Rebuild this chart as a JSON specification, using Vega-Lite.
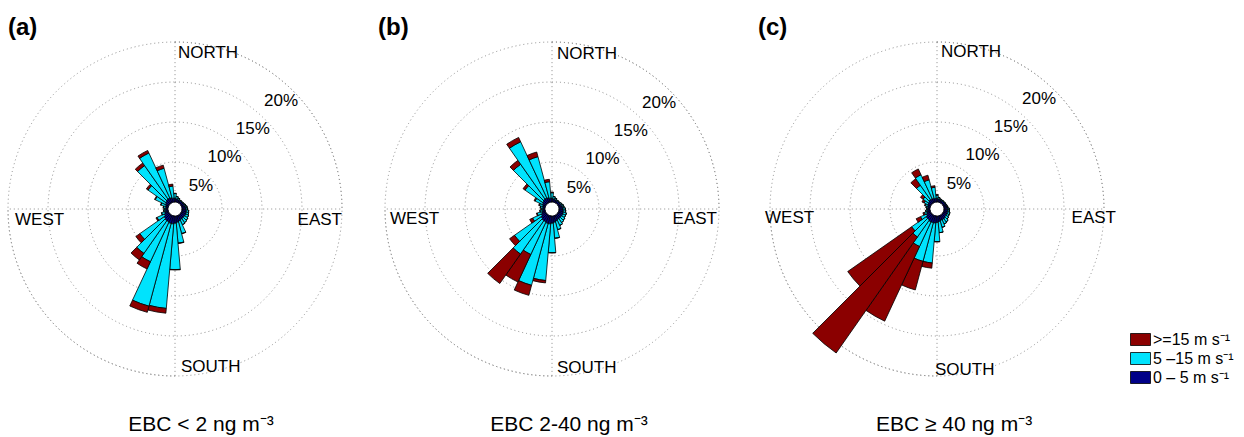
{
  "$schema": "https://vega.github.io/schema/vega-lite/v6.json",
  "padding": {"left": 0, "top": 16, "right": 0, "bottom": 0},
  "background": "white",
  "spacing": 0,
  "config": {
    "view": {"stroke": null},
    "font": "Liberation Sans",
    "title": {"font": "Liberation Sans", "color": "black"},
    "text": {"font": "Liberation Sans", "color": "black", "fontSize": 17},
    "concat": {"spacing": 0}
  },
  "datasets": {
    "rings": [
      {"pct": 5, "label": "5%"},
      {"pct": 10, "label": "10%"},
      {"pct": 15, "label": "15%"},
      {"pct": 20, "label": "20%"}
    ],
    "spokes": [
      {"from": 0, "to": 90},
      {"from": 180, "to": 270}
    ],
    "wind": [
      {"panel": "a", "dir": 0, "light": 0.45, "moderate": 0.6, "strong": 0.05},
      {"panel": "a", "dir": 10, "light": 0.4, "moderate": 0.3, "strong": 0},
      {"panel": "a", "dir": 20, "light": 0.35, "moderate": 0.2, "strong": 0},
      {"panel": "a", "dir": 30, "light": 0.3, "moderate": 0.1, "strong": 0},
      {"panel": "a", "dir": 40, "light": 0.3, "moderate": 0.1, "strong": 0},
      {"panel": "a", "dir": 50, "light": 0.3, "moderate": 0.1, "strong": 0},
      {"panel": "a", "dir": 60, "light": 0.35, "moderate": 0.1, "strong": 0},
      {"panel": "a", "dir": 70, "light": 0.4, "moderate": 0.15, "strong": 0},
      {"panel": "a", "dir": 80, "light": 0.45, "moderate": 0.2, "strong": 0},
      {"panel": "a", "dir": 90, "light": 0.5, "moderate": 0.2, "strong": 0},
      {"panel": "a", "dir": 100, "light": 0.55, "moderate": 0.3, "strong": 0},
      {"panel": "a", "dir": 110, "light": 0.6, "moderate": 0.3, "strong": 0},
      {"panel": "a", "dir": 120, "light": 0.6, "moderate": 0.4, "strong": 0},
      {"panel": "a", "dir": 130, "light": 0.6, "moderate": 0.5, "strong": 0},
      {"panel": "a", "dir": 140, "light": 0.6, "moderate": 0.6, "strong": 0},
      {"panel": "a", "dir": 150, "light": 0.6, "moderate": 0.7, "strong": 0},
      {"panel": "a", "dir": 160, "light": 0.7, "moderate": 1.6, "strong": 0.05},
      {"panel": "a", "dir": 170, "light": 0.8, "moderate": 2.6, "strong": 0.05},
      {"panel": "a", "dir": 180, "light": 0.9, "moderate": 5.8, "strong": 0.05},
      {"panel": "a", "dir": 190, "light": 1.0, "moderate": 10.6, "strong": 0.6},
      {"panel": "a", "dir": 200, "light": 1.0, "moderate": 10.7, "strong": 0.8},
      {"panel": "a", "dir": 210, "light": 0.9, "moderate": 5.5, "strong": 1.0},
      {"panel": "a", "dir": 220, "light": 0.9, "moderate": 5.0, "strong": 1.0},
      {"panel": "a", "dir": 230, "light": 0.8, "moderate": 3.7, "strong": 0.6},
      {"panel": "a", "dir": 240, "light": 0.6, "moderate": 1.0, "strong": 0.15},
      {"panel": "a", "dir": 250, "light": 0.45, "moderate": 0.4, "strong": 0.05},
      {"panel": "a", "dir": 260, "light": 0.35, "moderate": 0.2, "strong": 0},
      {"panel": "a", "dir": 270, "light": 0.3, "moderate": 0.2, "strong": 0},
      {"panel": "a", "dir": 280, "light": 0.3, "moderate": 0.3, "strong": 0},
      {"panel": "a", "dir": 290, "light": 0.35, "moderate": 0.6, "strong": 0.05},
      {"panel": "a", "dir": 300, "light": 0.45, "moderate": 1.4, "strong": 0.1},
      {"panel": "a", "dir": 310, "light": 0.55, "moderate": 2.7, "strong": 0.25},
      {"panel": "a", "dir": 320, "light": 0.65, "moderate": 5.1, "strong": 0.4},
      {"panel": "a", "dir": 330, "light": 0.65, "moderate": 6.2, "strong": 0.35},
      {"panel": "a", "dir": 340, "light": 0.6, "moderate": 3.8, "strong": 0.4},
      {"panel": "a", "dir": 350, "light": 0.5, "moderate": 1.5, "strong": 0.25},

      {"panel": "b", "dir": 0, "light": 0.45, "moderate": 0.7, "strong": 0.1},
      {"panel": "b", "dir": 10, "light": 0.4, "moderate": 0.3, "strong": 0},
      {"panel": "b", "dir": 20, "light": 0.35, "moderate": 0.2, "strong": 0},
      {"panel": "b", "dir": 30, "light": 0.3, "moderate": 0.1, "strong": 0},
      {"panel": "b", "dir": 40, "light": 0.3, "moderate": 0.1, "strong": 0},
      {"panel": "b", "dir": 50, "light": 0.3, "moderate": 0.1, "strong": 0},
      {"panel": "b", "dir": 60, "light": 0.35, "moderate": 0.15, "strong": 0},
      {"panel": "b", "dir": 70, "light": 0.4, "moderate": 0.2, "strong": 0},
      {"panel": "b", "dir": 80, "light": 0.45, "moderate": 0.2, "strong": 0},
      {"panel": "b", "dir": 90, "light": 0.5, "moderate": 0.3, "strong": 0},
      {"panel": "b", "dir": 100, "light": 0.55, "moderate": 0.3, "strong": 0},
      {"panel": "b", "dir": 110, "light": 0.6, "moderate": 0.4, "strong": 0},
      {"panel": "b", "dir": 120, "light": 0.6, "moderate": 0.4, "strong": 0},
      {"panel": "b", "dir": 130, "light": 0.6, "moderate": 0.5, "strong": 0},
      {"panel": "b", "dir": 140, "light": 0.6, "moderate": 0.6, "strong": 0},
      {"panel": "b", "dir": 150, "light": 0.6, "moderate": 0.8, "strong": 0},
      {"panel": "b", "dir": 160, "light": 0.7, "moderate": 1.1, "strong": 0},
      {"panel": "b", "dir": 170, "light": 0.8, "moderate": 2.0, "strong": 0},
      {"panel": "b", "dir": 180, "light": 0.9, "moderate": 3.7, "strong": 0},
      {"panel": "b", "dir": 190, "light": 1.0, "moderate": 7.1, "strong": 0.3},
      {"panel": "b", "dir": 200, "light": 1.0, "moderate": 8.0, "strong": 1.3},
      {"panel": "b", "dir": 210, "light": 0.9, "moderate": 4.5, "strong": 3.8},
      {"panel": "b", "dir": 220, "light": 0.9, "moderate": 5.1, "strong": 4.5},
      {"panel": "b", "dir": 230, "light": 0.8, "moderate": 4.05, "strong": 0.75},
      {"panel": "b", "dir": 240, "light": 0.6, "moderate": 1.2, "strong": 0.4},
      {"panel": "b", "dir": 250, "light": 0.45, "moderate": 0.6, "strong": 0.1},
      {"panel": "b", "dir": 260, "light": 0.35, "moderate": 0.3, "strong": 0},
      {"panel": "b", "dir": 270, "light": 0.3, "moderate": 0.2, "strong": 0},
      {"panel": "b", "dir": 280, "light": 0.3, "moderate": 0.3, "strong": 0},
      {"panel": "b", "dir": 290, "light": 0.35, "moderate": 0.4, "strong": 0.1},
      {"panel": "b", "dir": 300, "light": 0.45, "moderate": 1.0, "strong": 0.15},
      {"panel": "b", "dir": 310, "light": 0.55, "moderate": 2.7, "strong": 0.3},
      {"panel": "b", "dir": 320, "light": 0.65, "moderate": 5.3, "strong": 0.6},
      {"panel": "b", "dir": 330, "light": 0.65, "moderate": 7.75, "strong": 0.6},
      {"panel": "b", "dir": 340, "light": 0.6, "moderate": 5.3, "strong": 0.6},
      {"panel": "b", "dir": 350, "light": 0.5, "moderate": 2.05, "strong": 0.3},

      {"panel": "c", "dir": 0, "light": 0.45, "moderate": 0.4, "strong": 0.1},
      {"panel": "c", "dir": 10, "light": 0.4, "moderate": 0.2, "strong": 0},
      {"panel": "c", "dir": 20, "light": 0.35, "moderate": 0.1, "strong": 0},
      {"panel": "c", "dir": 30, "light": 0.3, "moderate": 0.1, "strong": 0},
      {"panel": "c", "dir": 40, "light": 0.3, "moderate": 0.1, "strong": 0},
      {"panel": "c", "dir": 50, "light": 0.3, "moderate": 0.1, "strong": 0},
      {"panel": "c", "dir": 60, "light": 0.3, "moderate": 0.1, "strong": 0},
      {"panel": "c", "dir": 70, "light": 0.35, "moderate": 0.1, "strong": 0},
      {"panel": "c", "dir": 80, "light": 0.4, "moderate": 0.1, "strong": 0},
      {"panel": "c", "dir": 90, "light": 0.45, "moderate": 0.2, "strong": 0},
      {"panel": "c", "dir": 100, "light": 0.5, "moderate": 0.2, "strong": 0},
      {"panel": "c", "dir": 110, "light": 0.5, "moderate": 0.3, "strong": 0},
      {"panel": "c", "dir": 120, "light": 0.5, "moderate": 0.3, "strong": 0},
      {"panel": "c", "dir": 130, "light": 0.5, "moderate": 0.4, "strong": 0},
      {"panel": "c", "dir": 140, "light": 0.6, "moderate": 0.5, "strong": 0},
      {"panel": "c", "dir": 150, "light": 0.6, "moderate": 0.6, "strong": 0},
      {"panel": "c", "dir": 160, "light": 0.6, "moderate": 0.9, "strong": 0},
      {"panel": "c", "dir": 170, "light": 0.7, "moderate": 1.4, "strong": 0},
      {"panel": "c", "dir": 180, "light": 0.8, "moderate": 2.4, "strong": 0.05},
      {"panel": "c", "dir": 190, "light": 0.9, "moderate": 5.0, "strong": 0.65},
      {"panel": "c", "dir": 200, "light": 0.9, "moderate": 5.0, "strong": 3.7},
      {"panel": "c", "dir": 210, "light": 0.9, "moderate": 3.4, "strong": 10.3},
      {"panel": "c", "dir": 220, "light": 0.8, "moderate": 2.6, "strong": 17.7},
      {"panel": "c", "dir": 230, "light": 0.8, "moderate": 2.2, "strong": 9.75},
      {"panel": "c", "dir": 240, "light": 0.6, "moderate": 0.8, "strong": 0.6},
      {"panel": "c", "dir": 250, "light": 0.45, "moderate": 0.3, "strong": 0.2},
      {"panel": "c", "dir": 260, "light": 0.35, "moderate": 0.2, "strong": 0},
      {"panel": "c", "dir": 270, "light": 0.3, "moderate": 0.1, "strong": 0},
      {"panel": "c", "dir": 280, "light": 0.3, "moderate": 0.2, "strong": 0},
      {"panel": "c", "dir": 290, "light": 0.35, "moderate": 0.3, "strong": 0.1},
      {"panel": "c", "dir": 300, "light": 0.4, "moderate": 0.5, "strong": 0.3},
      {"panel": "c", "dir": 310, "light": 0.45, "moderate": 0.8, "strong": 0.4},
      {"panel": "c", "dir": 320, "light": 0.55, "moderate": 2.2, "strong": 1.0},
      {"panel": "c", "dir": 330, "light": 0.55, "moderate": 3.3, "strong": 0.8},
      {"panel": "c", "dir": 340, "light": 0.5, "moderate": 2.4, "strong": 0.6},
      {"panel": "c", "dir": 350, "light": 0.45, "moderate": 1.4, "strong": 0.2}
    ]
  },
  "hconcat": [
    {
      "title": {"text": "(a)", "anchor": "start", "dx": 8, "offset": -10, "fontSize": 24, "fontWeight": "bold"},
      "vconcat": [
        {
          "width": 350,
          "height": 358,
          "title": {"text": "EBC < 2 ng m⁻³", "orient": "bottom", "offset": 26, "dx": 26, "fontSize": 21, "fontWeight": "normal"},
          "layer": [
            {
              "data": {"name": "rings"},
              "mark": {"type": "arc", "filled": false, "stroke": "#8c8c8c", "strokeWidth": 1, "strokeDash": [1, 3]},
              "encoding": {
                "theta": {"datum": 0, "scale": {"domain": [0, 360], "range": [0, 6.283185307179586], "nice": false}},
                "theta2": {"datum": 360},
                "radius": {"field": "pct", "type": "quantitative", "stack": null, "scale": {"type": "linear", "domain": [0, 20], "range": [7, 167], "nice": false, "zero": false}}
              }
            },
            {
              "data": {"name": "spokes"},
              "mark": {"type": "arc", "filled": false, "stroke": "#8c8c8c", "strokeWidth": 1, "strokeDash": [1, 3]},
              "encoding": {
                "theta": {"field": "from", "type": "quantitative", "stack": null},
                "theta2": {"field": "to"},
                "radius": {"datum": 20}
              }
            },
            {
              "data": {"values": [{"dir": 0, "label": "NORTH"}]},
              "mark": {"type": "text", "align": "left", "baseline": "alphabetic", "dx": 3, "dy": 16},
              "encoding": {"theta": {"field": "dir", "type": "quantitative", "stack": null}, "radius": {"datum": 20}, "text": {"field": "label"}}
            },
            {
              "data": {"values": [{"dir": 180, "label": "SOUTH"}]},
              "mark": {"type": "text", "align": "left", "baseline": "alphabetic", "dx": 6, "dy": -4},
              "encoding": {"theta": {"field": "dir", "type": "quantitative", "stack": null}, "radius": {"datum": 20}, "text": {"field": "label"}}
            },
            {
              "data": {"values": [{"dir": 270, "label": "WEST"}]},
              "mark": {"type": "text", "align": "left", "baseline": "alphabetic", "dx": 7, "dy": 16},
              "encoding": {"theta": {"field": "dir", "type": "quantitative", "stack": null}, "radius": {"datum": 20}, "text": {"field": "label"}}
            },
            {
              "data": {"values": [{"dir": 90, "label": "EAST"}]},
              "mark": {"type": "text", "align": "right", "baseline": "alphabetic", "dx": 0, "dy": 16},
              "encoding": {"theta": {"field": "dir", "type": "quantitative", "stack": null}, "radius": {"datum": 20}, "text": {"field": "label"}}
            },
            {
              "data": {"name": "rings"},
              "mark": {"type": "text", "align": "right", "baseline": "alphabetic", "dx": 5, "dy": 15},
              "encoding": {"theta": {"datum": 45}, "radius": {"field": "pct", "type": "quantitative", "stack": null}, "text": {"field": "label"}}
            },
            {
              "data": {"name": "wind"},
              "transform": [
                {"filter": {"field": "panel", "equal": "a"}},
                {"fold": ["light", "moderate", "strong"], "as": ["speed", "pct"]},
                {"stack": "pct", "groupby": ["dir"], "sort": [{"field": "speed", "order": "ascending"}], "as": ["r_lo", "r_hi"]},
                {"bin": {"step": 10, "extent": [-5, 355], "nice": false}, "field": "dir", "as": ["dir_lo", "dir_hi"]}
              ],
              "mark": {"type": "arc", "stroke": "black", "strokeWidth": 0.8},
              "encoding": {
                "theta": {"field": "dir_lo", "type": "quantitative", "stack": null},
                "theta2": {"field": "dir_hi"},
                "radius": {"field": "r_hi", "type": "quantitative", "stack": null},
                "radius2": {"field": "r_lo"},
                "color": {
                  "field": "speed", "type": "nominal",
                  "scale": {"domain": ["strong", "moderate", "light"], "range": ["#8b0000", "#00e3fd", "#000088"]},
                  "legend": {
                    "title": null, "orient": "none", "legendX": 1130, "legendY": 299,
                    "symbolType": "M-1,-0.6H1V0.6H-1Z", "symbolSize": 400, "symbolStrokeColor": "black", "symbolStrokeWidth": 0.8, "symbolOpacity": 1,
                    "labelFont": "Liberation Sans", "labelFontSize": 16, "labelColor": "black", "labelOffset": 2, "rowPadding": -2, "padding": 0,
                    "labelExpr": "datum.value === 'strong' ? '>=15 m s⁻¹' : datum.value === 'moderate' ? '5 –15 m s⁻¹' : '0 – 5 m s⁻¹'"
                  }
                }
              }
            },
            {
              "data": {"values": [{"hub": 0}]},
              "mark": {"type": "arc", "fill": "white", "strokeWidth": 0},
              "encoding": {"theta": {"datum": 0}, "theta2": {"datum": 360}, "radius": {"field": "hub", "type": "quantitative", "stack": null}}
            }
          ]
        }
      ]
    },
    {
      "title": {"text": "(b)", "anchor": "start", "dx": 28, "offset": -10, "fontSize": 24, "fontWeight": "bold"},
      "vconcat": [
        {
          "width": 404,
          "height": 358,
          "title": {"text": "EBC 2-40 ng m⁻³", "orient": "bottom", "offset": 26, "dx": 17, "fontSize": 21, "fontWeight": "normal"},
          "layer": [
            {
              "data": {"name": "rings"},
              "mark": {"type": "arc", "filled": false, "stroke": "#8c8c8c", "strokeWidth": 1, "strokeDash": [1, 3]},
              "encoding": {
                "theta": {"datum": 0, "scale": {"domain": [0, 360], "range": [0, 6.283185307179586], "nice": false}},
                "theta2": {"datum": 360},
                "radius": {"field": "pct", "type": "quantitative", "stack": null, "scale": {"type": "linear", "domain": [0, 20], "range": [7, 167], "nice": false, "zero": false}}
              }
            },
            {
              "data": {"name": "spokes"},
              "mark": {"type": "arc", "filled": false, "stroke": "#8c8c8c", "strokeWidth": 1, "strokeDash": [1, 3]},
              "encoding": {
                "theta": {"field": "from", "type": "quantitative", "stack": null},
                "theta2": {"field": "to"},
                "radius": {"datum": 20}
              }
            },
            {
              "data": {"values": [{"dir": 0, "label": "NORTH"}]},
              "mark": {"type": "text", "align": "left", "baseline": "alphabetic", "dx": 5, "dy": 17},
              "encoding": {"theta": {"field": "dir", "type": "quantitative", "stack": null}, "radius": {"datum": 20}, "text": {"field": "label"}}
            },
            {
              "data": {"values": [{"dir": 180, "label": "SOUTH"}]},
              "mark": {"type": "text", "align": "left", "baseline": "alphabetic", "dx": 5, "dy": -3},
              "encoding": {"theta": {"field": "dir", "type": "quantitative", "stack": null}, "radius": {"datum": 20}, "text": {"field": "label"}}
            },
            {
              "data": {"values": [{"dir": 270, "label": "WEST"}]},
              "mark": {"type": "text", "align": "left", "baseline": "alphabetic", "dx": 5, "dy": 15},
              "encoding": {"theta": {"field": "dir", "type": "quantitative", "stack": null}, "radius": {"datum": 20}, "text": {"field": "label"}}
            },
            {
              "data": {"values": [{"dir": 90, "label": "EAST"}]},
              "mark": {"type": "text", "align": "right", "baseline": "alphabetic", "dx": -2, "dy": 15},
              "encoding": {"theta": {"field": "dir", "type": "quantitative", "stack": null}, "radius": {"datum": 20}, "text": {"field": "label"}}
            },
            {
              "data": {"name": "rings"},
              "mark": {"type": "text", "align": "right", "baseline": "alphabetic", "dx": 6, "dy": 17},
              "encoding": {"theta": {"datum": 45}, "radius": {"field": "pct", "type": "quantitative", "stack": null}, "text": {"field": "label"}}
            },
            {
              "data": {"name": "wind"},
              "transform": [
                {"filter": {"field": "panel", "equal": "b"}},
                {"fold": ["light", "moderate", "strong"], "as": ["speed", "pct"]},
                {"stack": "pct", "groupby": ["dir"], "sort": [{"field": "speed", "order": "ascending"}], "as": ["r_lo", "r_hi"]},
                {"bin": {"step": 10, "extent": [-5, 355], "nice": false}, "field": "dir", "as": ["dir_lo", "dir_hi"]}
              ],
              "mark": {"type": "arc", "stroke": "black", "strokeWidth": 0.8},
              "encoding": {
                "theta": {"field": "dir_lo", "type": "quantitative", "stack": null},
                "theta2": {"field": "dir_hi"},
                "radius": {"field": "r_hi", "type": "quantitative", "stack": null},
                "radius2": {"field": "r_lo"},
                "color": {
                  "field": "speed", "type": "nominal",
                  "scale": {"domain": ["strong", "moderate", "light"], "range": ["#8b0000", "#00e3fd", "#000088"]},
                  "legend": {
                    "title": null, "orient": "none", "legendX": 1130, "legendY": 299,
                    "symbolType": "M-1,-0.6H1V0.6H-1Z", "symbolSize": 400, "symbolStrokeColor": "black", "symbolStrokeWidth": 0.8, "symbolOpacity": 1,
                    "labelFont": "Liberation Sans", "labelFontSize": 16, "labelColor": "black", "labelOffset": 2, "rowPadding": -2, "padding": 0,
                    "labelExpr": "datum.value === 'strong' ? '>=15 m s⁻¹' : datum.value === 'moderate' ? '5 –15 m s⁻¹' : '0 – 5 m s⁻¹'"
                  }
                }
              }
            },
            {
              "data": {"values": [{"hub": 0}]},
              "mark": {"type": "arc", "fill": "white", "strokeWidth": 0},
              "encoding": {"theta": {"datum": 0}, "theta2": {"datum": 360}, "radius": {"field": "hub", "type": "quantitative", "stack": null}}
            }
          ]
        }
      ]
    },
    {
      "title": {"text": "(c)", "anchor": "start", "dx": 4, "offset": -10, "fontSize": 24, "fontWeight": "bold"},
      "vconcat": [
        {
          "width": 366,
          "height": 358,
          "title": {"text": "EBC ≥ 40 ng m⁻³", "orient": "bottom", "offset": 26, "dx": 17, "fontSize": 21, "fontWeight": "normal"},
          "layer": [
            {
              "data": {"name": "rings"},
              "mark": {"type": "arc", "filled": false, "stroke": "#8c8c8c", "strokeWidth": 1, "strokeDash": [1, 3]},
              "encoding": {
                "theta": {"datum": 0, "scale": {"domain": [0, 360], "range": [0, 6.283185307179586], "nice": false}},
                "theta2": {"datum": 360},
                "radius": {"field": "pct", "type": "quantitative", "stack": null, "scale": {"type": "linear", "domain": [0, 20], "range": [7, 167], "nice": false, "zero": false}}
              }
            },
            {
              "data": {"name": "spokes"},
              "mark": {"type": "arc", "filled": false, "stroke": "#8c8c8c", "strokeWidth": 1, "strokeDash": [1, 3]},
              "encoding": {
                "theta": {"field": "from", "type": "quantitative", "stack": null},
                "theta2": {"field": "to"},
                "radius": {"datum": 20}
              }
            },
            {
              "data": {"values": [{"dir": 0, "label": "NORTH"}]},
              "mark": {"type": "text", "align": "left", "baseline": "alphabetic", "dx": 4, "dy": 15},
              "encoding": {"theta": {"field": "dir", "type": "quantitative", "stack": null}, "radius": {"datum": 20}, "text": {"field": "label"}}
            },
            {
              "data": {"values": [{"dir": 180, "label": "SOUTH"}]},
              "mark": {"type": "text", "align": "left", "baseline": "alphabetic", "dx": -2, "dy": -1},
              "encoding": {"theta": {"field": "dir", "type": "quantitative", "stack": null}, "radius": {"datum": 20}, "text": {"field": "label"}}
            },
            {
              "data": {"values": [{"dir": 270, "label": "WEST"}]},
              "mark": {"type": "text", "align": "left", "baseline": "alphabetic", "dx": -5, "dy": 14},
              "encoding": {"theta": {"field": "dir", "type": "quantitative", "stack": null}, "radius": {"datum": 20}, "text": {"field": "label"}}
            },
            {
              "data": {"values": [{"dir": 90, "label": "EAST"}]},
              "mark": {"type": "text", "align": "right", "baseline": "alphabetic", "dx": 12, "dy": 14},
              "encoding": {"theta": {"field": "dir", "type": "quantitative", "stack": null}, "radius": {"datum": 20}, "text": {"field": "label"}}
            },
            {
              "data": {"name": "rings"},
              "mark": {"type": "text", "align": "right", "baseline": "alphabetic", "dx": 1, "dy": 13},
              "encoding": {"theta": {"datum": 45}, "radius": {"field": "pct", "type": "quantitative", "stack": null}, "text": {"field": "label"}}
            },
            {
              "data": {"name": "wind"},
              "transform": [
                {"filter": {"field": "panel", "equal": "c"}},
                {"fold": ["light", "moderate", "strong"], "as": ["speed", "pct"]},
                {"stack": "pct", "groupby": ["dir"], "sort": [{"field": "speed", "order": "ascending"}], "as": ["r_lo", "r_hi"]},
                {"bin": {"step": 10, "extent": [-5, 355], "nice": false}, "field": "dir", "as": ["dir_lo", "dir_hi"]}
              ],
              "mark": {"type": "arc", "stroke": "black", "strokeWidth": 0.8},
              "encoding": {
                "theta": {"field": "dir_lo", "type": "quantitative", "stack": null},
                "theta2": {"field": "dir_hi"},
                "radius": {"field": "r_hi", "type": "quantitative", "stack": null},
                "radius2": {"field": "r_lo"},
                "color": {
                  "field": "speed", "type": "nominal",
                  "scale": {"domain": ["strong", "moderate", "light"], "range": ["#8b0000", "#00e3fd", "#000088"]},
                  "legend": {
                    "title": null, "orient": "none", "legendX": 1130, "legendY": 299,
                    "symbolType": "M-1,-0.6H1V0.6H-1Z", "symbolSize": 400, "symbolStrokeColor": "black", "symbolStrokeWidth": 0.8, "symbolOpacity": 1,
                    "labelFont": "Liberation Sans", "labelFontSize": 16, "labelColor": "black", "labelOffset": 2, "rowPadding": -2, "padding": 0,
                    "labelExpr": "datum.value === 'strong' ? '>=15 m s⁻¹' : datum.value === 'moderate' ? '5 –15 m s⁻¹' : '0 – 5 m s⁻¹'"
                  }
                }
              }
            },
            {
              "data": {"values": [{"hub": 0}]},
              "mark": {"type": "arc", "fill": "white", "strokeWidth": 0},
              "encoding": {"theta": {"datum": 0}, "theta2": {"datum": 360}, "radius": {"field": "hub", "type": "quantitative", "stack": null}}
            }
          ]
        }
      ]
    }
  ]
}
